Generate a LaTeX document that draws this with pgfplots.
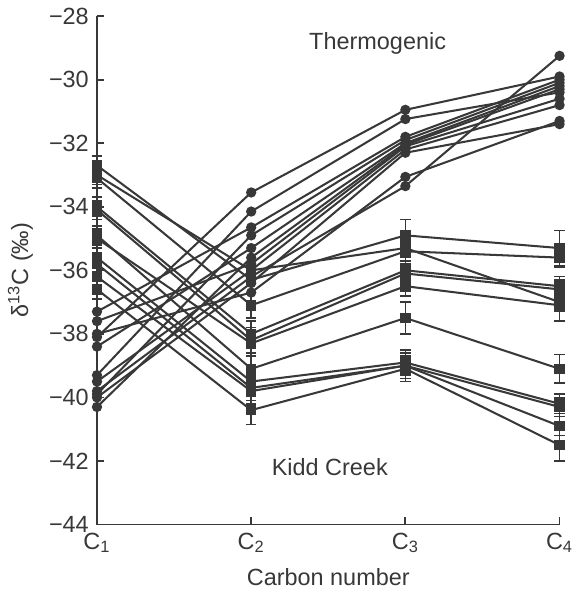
\documentclass[border=0pt]{standalone}
\usepackage{fontspec}
\setmainfont{Liberation Sans}
\usepackage{pgfplots}
\pgfplotsset{compat=1.18}
\definecolor{ink}{HTML}{383838}
\pgfplotsset{
  thermo/.style={ink, line width=1pt, mark=*, mark size=2pt, mark options={fill=ink, draw=ink, solid}},
  kidd/.style={ink, line width=1pt, mark=square*, mark size=2.1pt, mark options={fill=ink, draw=ink, solid},
    error bars/.cd, y dir=both, y explicit,
    error bar style={line width=0.8pt, ink},
    error mark options={rotate=90, mark size=2.6pt, line width=0.8pt, ink}},
}
\begin{document}
\fontsize{11.5}{13.8}\selectfont
\begin{tikzpicture}
\begin{axis}[
  scale only axis, width=227pt, height=249.5pt,
  xmin=1, xmax=4, ymin=-44, ymax=-28,
  axis lines=left, axis line style={-, ink, line width=0.9pt},
  xtick={1,2,3,4},
  xticklabels={C\textsubscript{1},C\textsubscript{2},C\textsubscript{3},C\textsubscript{4}},
  ytick={-44,-42,-40,-38,-36,-34,-32,-30,-28},
  yticklabels={−44,−42,−40,−38,−36,−34,−32,−30,−28},
  tick align=inside, major tick length=3.5pt, tick style={ink, line width=0.9pt},
  ticklabel style={font=\fontsize{11.5}{13.8}\selectfont, text=ink},
  xlabel={Carbon number}, ylabel={δ\textsuperscript{13}C (‰)},
  label style={font=\fontsize{11.5}{13.8}\selectfont, text=ink},
  clip=false,
]
% Thermogenic
\addplot[thermo] coordinates {(1,-38.1) (2,-33.55) (3,-30.95) (4,-29.9)};
\addplot[thermo] coordinates {(1,-39.3) (2,-34.15) (3,-31.24) (4,-30.4)};
\addplot[thermo] coordinates {(1,-37.3) (2,-34.65) (3,-31.8) (4,-30.0)};
\addplot[thermo] coordinates {(1,-39.9) (2,-34.9) (3,-31.9) (4,-30.1)};
\addplot[thermo] coordinates {(1,-38.4) (2,-35.3) (3,-32.0) (4,-30.2)};
\addplot[thermo] coordinates {(1,-40.3) (2,-35.6) (3,-32.05) (4,-30.3)};
\addplot[thermo] coordinates {(1,-37.6) (2,-35.8) (3,-32.1) (4,-30.6)};
\addplot[thermo] coordinates {(1,-39.5) (2,-36.0) (3,-32.2) (4,-30.8)};
\addplot[thermo] coordinates {(1,-40.0) (2,-36.4) (3,-32.3) (4,-31.4)};
\addplot[thermo] coordinates {(1,-38.0) (2,-36.7) (3,-33.06) (4,-31.3)};
\addplot[thermo] coordinates {(1,-39.8) (2,-36.2) (3,-33.35) (4,-29.25)};
% Kidd Creek
\addplot[kidd] coordinates {(1,-32.7) +- (0,0.3) (2,-36.3) +- (0,0.4) (3,-34.9) +- (0,0.5) (4,-35.3) +- (0,0.55)};
\addplot[kidd] coordinates {(1,-33.0) +- (0,0.3) (2,-36.0) +- (0,0.4) (3,-35.3) +- (0,0.3) (4,-37.0) +- (0,0.3)};
\addplot[kidd] coordinates {(1,-33.1) +- (0,0.3) (2,-37.1) +- (0,0.4) (3,-35.4) +- (0,0.3) (4,-35.6) +- (0,0.3)};
\addplot[kidd] coordinates {(1,-34.0) +- (0,0.3) (2,-38.0) +- (0,0.4) (3,-36.0) +- (0,0.3) (4,-36.5) +- (0,0.3)};
\addplot[kidd] coordinates {(1,-34.1) +- (0,0.3) (2,-38.2) +- (0,0.4) (3,-36.1) +- (0,0.3) (4,-36.6) +- (0,0.3)};
\addplot[kidd] coordinates {(1,-35.0) +- (0,0.3) (2,-38.3) +- (0,0.4) (3,-36.5) +- (0,0.3) (4,-37.1) +- (0,0.5)};
\addplot[kidd] coordinates {(1,-34.9) +- (0,0.3) (2,-39.1) +- (0,0.4) (3,-37.5) +- (0,0.5) (4,-39.1) +- (0,0.45)};
\addplot[kidd] coordinates {(1,-35.6) +- (0,0.3) (2,-39.5) +- (0,0.4) (3,-38.9) +- (0,0.4) (4,-40.2) +- (0,0.3)};
\addplot[kidd] coordinates {(1,-35.8) +- (0,0.3) (2,-39.7) +- (0,0.4) (3,-39.0) +- (0,0.4) (4,-40.3) +- (0,0.3)};
\addplot[kidd] coordinates {(1,-36.2) +- (0,0.3) (2,-39.8) +- (0,0.4) (3,-39.0) +- (0,0.4) (4,-40.9) +- (0,0.3)};
\addplot[kidd] coordinates {(1,-36.6) +- (0,0.3) (2,-40.4) +- (0,0.45) (3,-39.1) +- (0,0.4) (4,-41.5) +- (0,0.5)};
\node[text=ink] at (axis cs:2.82,-28.87) {Thermogenic};
\node[text=ink] at (axis cs:2.51,-42.2) {Kidd Creek};
\end{axis}
\end{tikzpicture}
\end{document}
